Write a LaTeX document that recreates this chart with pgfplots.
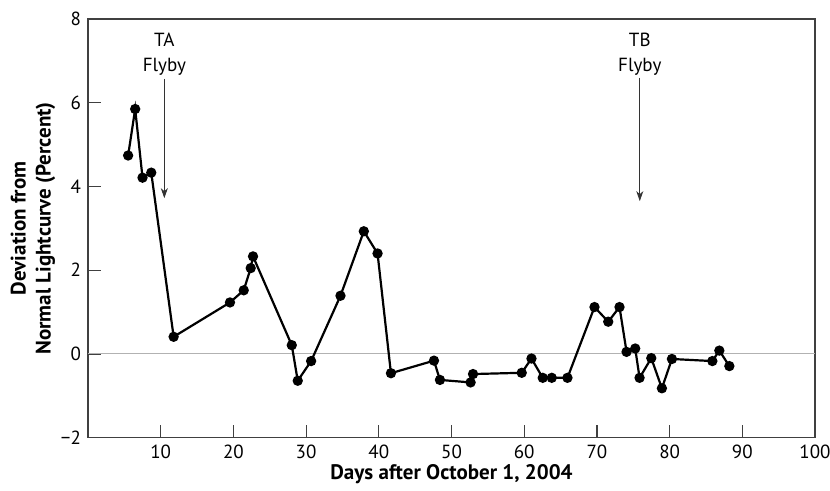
\documentclass[border=0pt]{standalone}
\usepackage{fontspec}
\setmainfont{PT Sans}
\usepackage{pgfplots}
\pgfplotsset{compat=1.18}
\usetikzlibrary{arrows.meta}

\begin{document}
\begin{tikzpicture}
\begin{axis}[
    scale only axis,
    width=363.5pt, height=209.35pt,
    xmin=0, xmax=100, ymin=-2, ymax=8,
    xtick={10,20,...,100},
    ytick={-2,0,2,4,6,8},
    yticklabels={−2,0,2,4,6,8},
    tick align=inside,
    major tick length=6.5pt,
    tick style={black!75, line width=0.6pt},
    axis line style={black!75, line width=0.7pt},
    xtick pos=bottom, ytick pos=left,
    ticklabel style={font=\fontsize{9.5}{11}\selectfont},
    /pgf/number format/assume math mode=true,
    xlabel={Days after October 1, 2004},
    ylabel={Deviation from\\Normal Lightcurve (Percent)},
    xlabel style={font=\bfseries\fontsize{10.5}{12}\selectfont, yshift=4pt},
    ylabel style={font=\bfseries\fontsize{10.5}{12.5}\selectfont, align=center, yshift=-4pt},
    clip=false,
]
% zero reference line
\addplot[black!30, line width=0.5pt, forget plot] coordinates {(0,0) (100,0)};

\addplot[black, line width=1.1pt, mark=*, mark size=2pt] coordinates {
(5.52,4.74) (6.49,5.85) (7.50,4.21) (8.70,4.33) (11.78,0.41)
(19.53,1.23) (21.42,1.52) (22.38,2.05) (22.70,2.33) (28.03,0.21)
(28.85,-0.64) (30.69,-0.17) (34.73,1.39) (37.94,2.93) (39.83,2.40)
(41.67,-0.46) (47.59,-0.16) (48.41,-0.62) (52.63,-0.68) (52.96,-0.48)
(59.66,-0.45) (61.00,-0.11) (62.55,-0.57) (63.79,-0.57) (65.95,-0.57)
(69.67,1.12) (71.56,0.77) (73.11,1.12) (74.08,0.05) (75.27,0.13)
(75.87,-0.57) (77.48,-0.10) (78.94,-0.82) (80.32,-0.12) (85.88,-0.17)
(86.84,0.08) (88.22,-0.29)
};

% flyby annotations
\node[align=center, font=\fontsize{9.5}{12.5}\selectfont, anchor=south, inner sep=1pt]
  at (axis cs:10.5,6.6) {TA\\Flyby};
\draw[black!80, line width=0.45pt, -{Stealth[length=5pt, width=3.5pt, inset=1.5pt]}]
  (axis cs:10.5,6.57) -- (axis cs:10.5,3.72);
\node[align=center, font=\fontsize{9.5}{12.5}\selectfont, anchor=south, inner sep=1pt]
  at (axis cs:75.9,6.6) {TB\\Flyby};
\draw[black!80, line width=0.45pt, -{Stealth[length=5pt, width=3.5pt, inset=1.5pt]}]
  (axis cs:75.9,6.6) -- (axis cs:75.9,3.65);
\end{axis}
\pgfresetboundingbox
\path[use as bounding box] (-44pt,-26.65pt) rectangle (371pt,218.85pt);
\end{tikzpicture}
\end{document}
